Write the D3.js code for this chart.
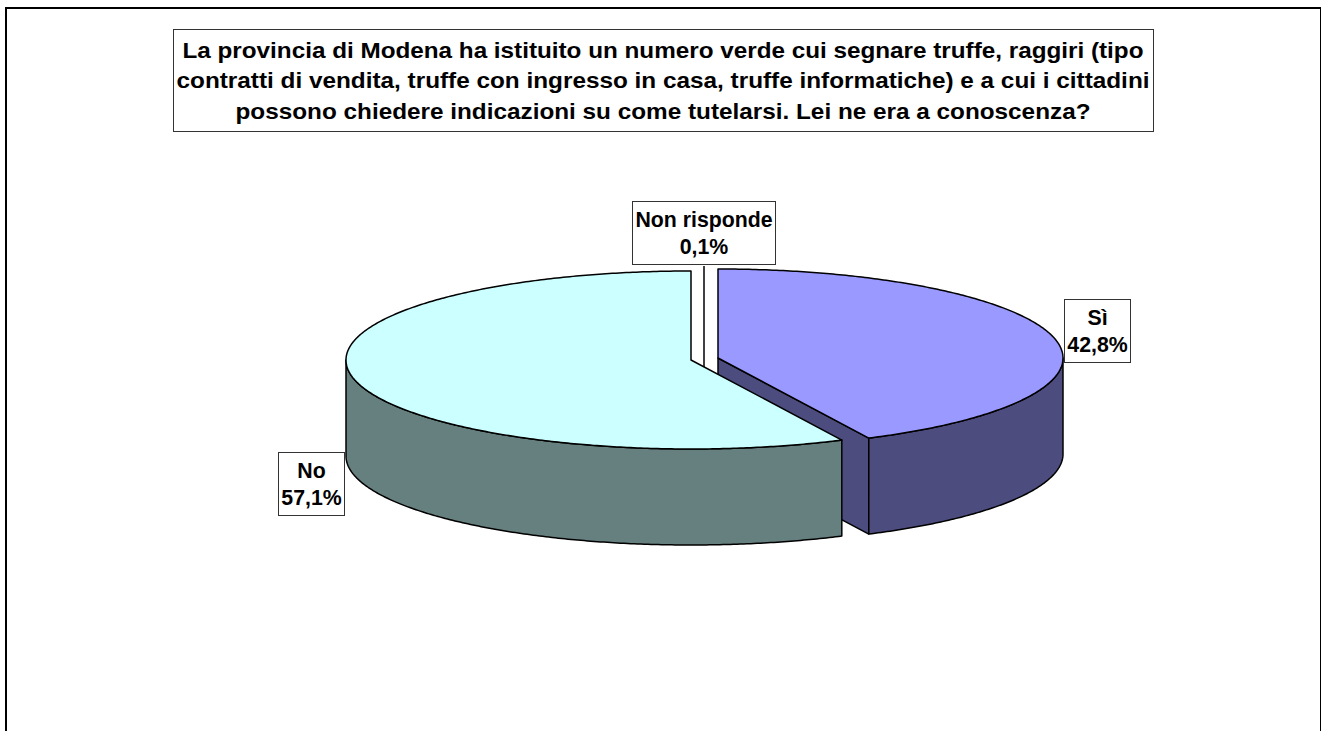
<!DOCTYPE html>
<html><head><meta charset="utf-8">
<script src="https://cdn.jsdelivr.net/npm/d3@7"></script>
<style>html,body{margin:0;padding:0;background:#fff;overflow:hidden}svg{display:block}</style>
</head><body><svg id="c" width="1321" height="731"></svg>
<script>
const categories = ["Sì", "No", "Non risponde"];
const values = [42.8, 57.1, 0.1];
const valueLabels = ["42,8%", "57,1%", "0,1%"];
const topColors = ["#9999FF", "#CCFFFF", "#FFFFFF"];
const wallColors = ["#4C4C7F", "#667F7F", "#7F7F7F"];
const titleLines = [
  "La provincia di Modena ha istituito un numero verde cui segnare truffe, raggiri (tipo",
  "contratti di vendita, truffe con ingresso in casa, truffe informatiche) e a cui i cittadini",
  "possono chiedere indicazioni su come tutelarsi. Lei ne era a conoscenza?"
];
const titleWidths = [961, 973, 855];
// layout
const centers = [[718, 358], [691, 360], [704, 355]];
const rx = 345, ry = 89, depth = 96;
const labelBoxes = [[1064.5, 299.5, 66, 63], [278.5, 452.5, 66, 63], [632.5, 201.5, 143, 63]];
const font = "'Liberation Sans', Arial, sans-serif";
const LH = 30.5;

const svg = d3.select("#c");
svg.append("path").attr("d", "M6,731V8H1321V731").attr("fill", "none").attr("stroke", "#000").attr("stroke-width", 2);

const title = svg.append("g");
title.append("rect").attr("x", 173.5).attr("y", 29.5).attr("width", 980).attr("height", 102)
  .attr("fill", "#fff").attr("stroke", "#333");
title.selectAll("text").data(titleLines).join("text")
  .attr("x", 663).attr("y", (d, i) => 57.5 + i * LH)
  .attr("text-anchor", "middle").attr("font-family", font).attr("font-weight", "bold")
  .attr("font-size", 22).attr("fill", "#000")
  .attr("textLength", (d, i) => titleWidths[i]).attr("lengthAdjust", "spacingAndGlyphs").text(d => d);

const pie = d3.pie().sort(null).value(d => d)(values);
const px = (c, a) => c[0] + rx * Math.sin(a);
const py = (c, a) => c[1] - ry * Math.cos(a);
function arcPts(c, a0, a1, dy) {
  const n = Math.max(2, Math.ceil((a1 - a0) / 0.01));
  return d3.range(n + 1).map(i => {
    const a = a0 + (a1 - a0) * i / n;
    return [px(c, a), py(c, a) + dy];
  });
}
const line = d3.line();
const g = svg.append("g").attr("stroke", "#000").attr("stroke-width", 1.5).attr("stroke-linejoin", "round");

// The 0,1% sliver is thinner than its outline: it is drawn as a hairline at the top of the pie
{
  const c = centers[2];
  g.append("path").attr("fill", "none")
    .attr("d", line([[c[0], c[1] - ry], [c[0], c[1] + depth]]));
}
[0, 1].forEach(i => {
  const s = pie[i], c = centers[i], a0 = s.startAngle;
  const a1 = i === 1 ? 2 * Math.PI : s.endAngle;
  if (i === 0) {
    const p = [px(c, a1), py(c, a1)];
    g.append("path").attr("fill", wallColors[i])
      .attr("d", line([c, p, [p[0], p[1] + depth], [c[0], c[1] + depth]]) + "Z");
  }
  const w0 = Math.max(a0, Math.PI / 2), w1 = Math.min(a1, 3 * Math.PI / 2);
  if (w1 > w0) {
    const top = arcPts(c, w0, w1, 0), bot = arcPts(c, w0, w1, depth).reverse();
    g.append("path").attr("fill", wallColors[i]).attr("d", line(top.concat(bot)) + "Z");
  }
  g.append("path").attr("fill", topColors[i])
    .attr("d", line([c].concat(arcPts(c, a0, a1, 0))) + "Z");
});

const lab = svg.append("g").selectAll("g").data(categories).join("g");
lab.append("rect")
  .attr("x", (d, i) => labelBoxes[i][0]).attr("y", (d, i) => labelBoxes[i][1])
  .attr("width", (d, i) => labelBoxes[i][2]).attr("height", (d, i) => labelBoxes[i][3])
  .attr("fill", "#fff").attr("stroke", "#333");
lab.append("text").attr("x", (d, i) => labelBoxes[i][0] + labelBoxes[i][2] / 2)
  .attr("y", (d, i) => labelBoxes[i][1] + 25.5)
  .attr("text-anchor", "middle").attr("font-family", font).attr("font-weight", "bold")
  .attr("font-size", 21.3).text(d => d);
lab.append("text").attr("x", (d, i) => labelBoxes[i][0] + labelBoxes[i][2] / 2)
  .attr("y", (d, i) => labelBoxes[i][1] + 52.5)
  .attr("text-anchor", "middle").attr("font-family", font).attr("font-weight", "bold")
  .attr("font-size", 21.3).text((d, i) => valueLabels[i]);
</script></body></html>
